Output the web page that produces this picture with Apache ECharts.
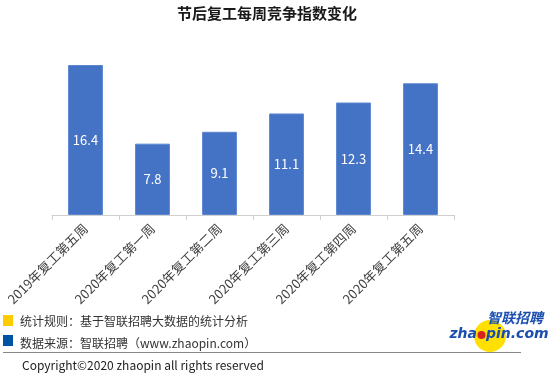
<!DOCTYPE html>
<html><head><meta charset="utf-8">
<script src="https://cdn.jsdelivr.net/npm/echarts@6/dist/echarts.min.js"></script>
<style>html,body{margin:0;padding:0;background:#fff}#c{width:550px;height:375px}</style>
</head><body><div id="c"></div>
<script>
const categories = ['2019年复工第五周','2020年复工第一周','2020年复工第二周','2020年复工第三周','2020年复工第四周','2020年复工第五周'];
const values = [16.4, 7.8, 9.1, 11.1, 12.3, 14.4];
const FONT = '"Noto Sans CJK SC", "Noto Sans", sans-serif';
const chart = echarts.init(document.getElementById('c'));
chart.setOption({
  animation: false,
  title: {text: '节后复工每周竞争指数变化', left: 262, textAlign: 'center', top: 1,
    textStyle: {fontSize: 15, fontWeight: 'bold', color: '#1a1a1a', fontFamily: FONT}},
  grid: {left: 52, right: 96, top: 65, bottom: 160, containLabel: false},
  xAxis: {type: 'category', data: categories,
    axisLine: {lineStyle: {color: '#d0d0d0', width: 1}},
    axisTick: {show: true, length: 5, lineStyle: {color: '#d0d0d0'}},
    axisLabel: {rotate: 45, interval: 0, fontSize: 13, color: '#404040', fontFamily: FONT, margin: 11}},
  yAxis: {type: 'value', min: 0, max: 16.4, show: false, splitLine: {show: false}},
  series: [{type: 'bar', data: values, barWidth: '52%',
    itemStyle: {color: '#4472C4', borderColor: '#5b86d1', borderWidth: 1},
    label: {show: true, position: 'inside', color: '#fff', fontSize: 13, fontFamily: FONT}}],
  graphic: [
    {type: 'rect', shape: {x: 3, y: 315, width: 10, height: 11}, style: {fill: '#FFCC00'}},
    {type: 'text', x: 20, y: 321, style: {text: '统计规则：基于智联招聘大数据的统计分析', fill: '#333', font: '12px ' + FONT, textVerticalAlign: 'middle'}},
    {type: 'rect', shape: {x: 3, y: 335, width: 10, height: 11}, style: {fill: '#0052A5'}},
    {type: 'text', x: 20, y: 343, style: {text: '数据来源：智联招聘（www.zhaopin.com）', fill: '#333', font: '12px ' + FONT, textVerticalAlign: 'middle'}},
    {type: 'line', shape: {x1: 3, y1: 352.5, x2: 521, y2: 352.5}, style: {stroke: '#888', lineWidth: 1}},
    {type: 'text', x: 22, y: 365, style: {text: 'Copyright©2020 zhaopin all rights reserved', fill: '#222', font: '12px ' + FONT, textVerticalAlign: 'middle'}},
    {type: 'circle', shape: {cx: 490, cy: 336, r: 16}, style: {fill: '#FFE000'}},
    {type: 'text', x: 515, y: 318, style: {text: '智联招聘', fill: '#1a4fb0', font: 'italic bold 14px ' + FONT, textAlign: 'center', textVerticalAlign: 'middle'}},
    {type: 'text', x: 477, y: 334, style: {text: 'zha', fill: '#1a4fb0', font: 'italic bold 14px "DejaVu Sans", sans-serif', textAlign: 'right', textVerticalAlign: 'middle'}},
    {type: 'text', x: 486, y: 334, style: {text: 'pin.com', fill: '#1a4fb0', font: 'italic bold 14px "DejaVu Sans", sans-serif', textAlign: 'left', textVerticalAlign: 'middle'}},
    {type: 'circle', shape: {cx: 481.5, cy: 335, r: 4}, style: {fill: '#d8231f'}}
  ]
});
</script></body></html>
